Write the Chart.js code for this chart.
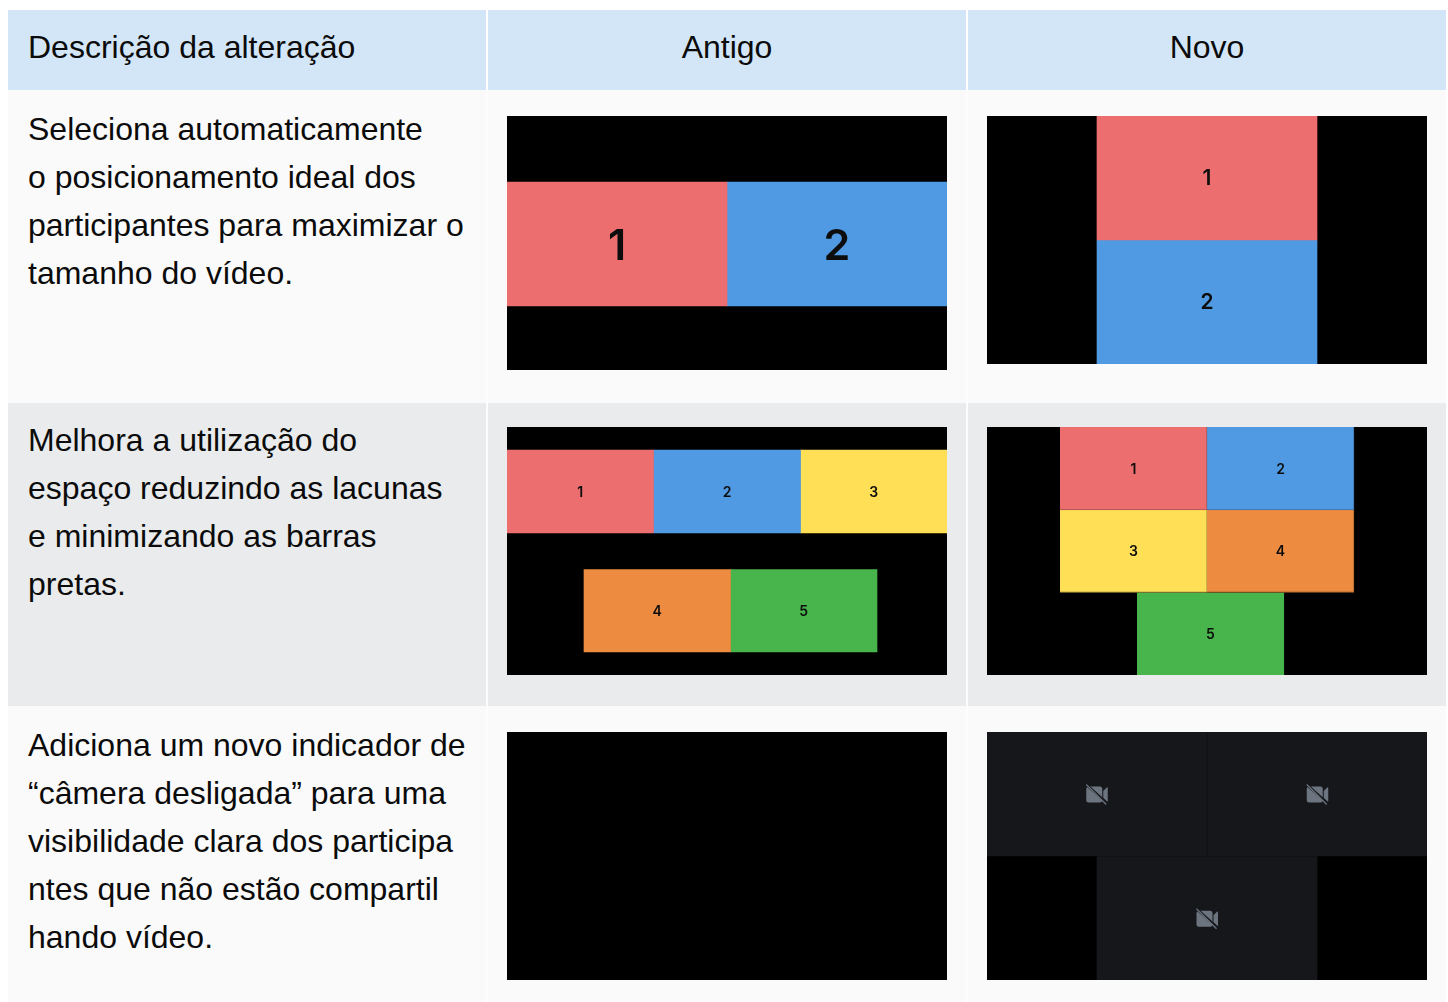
<!DOCTYPE html>
<html lang="pt">
<head>
<meta charset="utf-8">
<title>Descrição da alteração</title>
<script src="https://cdn.jsdelivr.net/npm/chart.js@4"></script>
<style>
html, body { margin: 0; background: #ffffff; }
body { width: 1448px; height: 1002px; position: relative; overflow: hidden; font-family: "Liberation Sans", Arial, sans-serif; color: #0b0b0b; }
.cell { position: absolute; box-sizing: border-box; font-size: 32px; line-height: 48px; white-space: pre; }
.head { background: #d3e6f8; top: 10px; height: 80px; line-height: 74px; }
.center { text-align: center; }
.c1 { left: 8px; width: 478px; padding-left: 20px; }
.c2 { left: 488px; width: 478px; }
.c3 { left: 968px; width: 478px; }
.r1 { top: 90px; height: 313px; background: #fafafa; }
.r2 { top: 403px; height: 303px; background: #e9ebed; }
.r3 { top: 706px; height: 296px; background: #fafafa; }
.sep { position: absolute; width: 2px; top: 90px; height: 912px; background: #fdfdfd; }
canvas { position: absolute; background: #000000; }
</style>
</head>
<body>
<div class="cell head c1">Descrição da alteração</div>
<div class="cell head c2 center">Antigo</div>
<div class="cell head c3 center">Novo</div>

<div class="cell r1 c1" style="padding-top:15px">Seleciona automaticamente
o posicionamento ideal dos
participantes para maximizar o
tamanho do vídeo.</div>
<div class="cell r1 c2"></div>
<div class="cell r1 c3"></div>

<div class="cell r2 c1" style="padding-top:13px">Melhora a utilização do
espaço reduzindo as lacunas
e minimizando as barras
pretas.</div>
<div class="cell r2 c2"></div>
<div class="cell r2 c3"></div>

<div class="cell r3 c1" style="padding-top:15px">Adiciona um novo indicador de
“câmera desligada” para uma
visibilidade clara dos participa
ntes que não estão compartil
hando vídeo.</div>
<div class="cell r3 c2"></div>
<div class="cell r3 c3"></div>

<div class="sep" style="left:486px"></div>
<div class="sep" style="left:966px"></div>

<canvas id="old1" width="440" height="254" style="left:507px;top:116px"></canvas>
<canvas id="new1" width="440" height="248" style="left:987px;top:116px"></canvas>
<canvas id="old2" width="440" height="248" style="left:507px;top:427px"></canvas>
<canvas id="new2" width="440" height="248" style="left:987px;top:427px"></canvas>
<canvas id="old3" width="440" height="248" style="left:507px;top:732px"></canvas>
<canvas id="new3" width="440" height="248" style="left:987px;top:732px"></canvas>

<script>
// tile extents, panel units
const old1Labels = ["1", "2"];
const old1Start = [0, 220];
const old1End = [220, 440];
const old1Top = [66, 66];
const old1Bottom = [190, 190];

const new1Labels = ["1", "2"];
const new1Start = [110, 110];
const new1End = [330, 330];
const new1Top = [0, 124];
const new1Bottom = [124, 248];

const old2Labels = ["1", "2", "3", "4", "5"];
const old2Start = [0, 146.5, 293.5, 77, 223.5];
const old2End = [146.5, 293.5, 440, 223.5, 370];
const old2Top = [23, 23, 23, 142.5, 142.5];
const old2Bottom = [106, 106, 106, 225, 225];

const new2Labels = ["1", "2", "3", "4", "5"];
const new2Start = [73, 220, 73, 220, 150];
const new2End = [220, 367, 220, 367, 297];
const new2Top = [0, 0, 83, 83, 165.5];
const new2Bottom = [83, 83, 165.5, 165.5, 248];

const new3Labels = ["", "", ""];
const new3Start = [0, 220.5, 110];
const new3End = [219.5, 440, 330];
const new3Top = [0, 0, 124.5];
const new3Bottom = [124, 124, 248];

const participantColors = ["#ec6e6e", "#4f9ae2", "#ffdf55", "#ed8b40", "#47b44c"];
const participantEdges = ["#a85252", "#3f6fa3", "#b39c40", "#a8632e", "#47b44c"];
const cameraOffColors = ["#16171b", "#16171b", "#16171b"];

// numbers in the middle of each tile
const tileLabelPlugin = {
    id: "tileLabels",
    afterDatasetsDraw(chart, args, opts) {
        const ctx = chart.ctx;
        chart.data.datasets.forEach((ds, i) => {
            const bar = chart.getDatasetMeta(i).data[0];
            const cx = (bar.x + bar.base) / 2;
            const cy = bar.y;
            if (opts.icons) {
                drawCameraOff(ctx, cx, cy);
            } else {
                ctx.save();
                ctx.font = opts.font;
                ctx.fillStyle = "#0d0d0d";
                ctx.textAlign = "center";
                ctx.textBaseline = "middle";
                ctx.fillText(ds.label, cx, cy + opts.lift);
                ctx.restore();
            }
        });
    }
};

function drawCameraOff(ctx, cx, cy) {
    ctx.save();
    ctx.translate(cx, cy);
    ctx.fillStyle = "#6c757f";
    ctx.beginPath();
    ctx.roundRect(-10.5, -7.5, 16, 16, 2.5);
    ctx.fill();
    ctx.beginPath();
    ctx.moveTo(6.5, -3);
    ctx.lineTo(10, -6.5);
    ctx.quadraticCurveTo(11, -7.5, 11, -5.5);
    ctx.lineTo(11, 6.5);
    ctx.quadraticCurveTo(11, 8.5, 10, 7.5);
    ctx.lineTo(6.5, 4);
    ctx.fill();
    ctx.lineWidth = 2.5;
    ctx.strokeStyle = "#16171b";
    ctx.beginPath();
    ctx.moveTo(-10, -9);
    ctx.lineTo(11, 10);
    ctx.stroke();
    ctx.lineWidth = 1.2;
    ctx.strokeStyle = "#6c757f";
    ctx.beginPath();
    ctx.moveTo(-10.5, -9.5);
    ctx.lineTo(9.5, 10.5);
    ctx.stroke();
    ctx.restore();
}

function createPanel(id, labels, start, end, top, bottom, colors, labelOpts, edges) {
    const canvas = document.getElementById(id);
    const datasets = labels.map((label, i) => ({
        label: label,
        stack: "tiles",
        data: [{ x: [start[i], end[i]], y: (top[i] + bottom[i]) / 2 }],
        backgroundColor: colors[i],
        barThickness: bottom[i] - top[i],
        borderColor: edges ? edges[i] : colors[i],
        borderSkipped: false,
        borderWidth: edges ? { top: 0, left: 0, right: 1, bottom: 1 } : 0
    }));
    new Chart(canvas, {
        type: "bar",
        data: { datasets: datasets },
        plugins: [tileLabelPlugin],
        options: {
            indexAxis: "y",
            responsive: false,
            animation: false,
            events: [],
            layout: { padding: 0 },
            plugins: {
                legend: { display: false },
                tooltip: { enabled: false },
                tileLabels: labelOpts
            },
            scales: {
                // stacked only on the y side, so every tile of a row keeps its own x range
                x: { type: "linear", display: false, min: 0, max: canvas.width, stacked: false, offset: false },
                y: { type: "linear", display: false, min: 0, max: canvas.height, reverse: true, stacked: true, offset: false }
            }
        }
    });
}

createPanel("old1", old1Labels, old1Start, old1End, old1Top, old1Bottom, participantColors, { font: "600 43px Inter", lift: 3 });
createPanel("new1", new1Labels, new1Start, new1End, new1Top, new1Bottom, participantColors, { font: "600 21px Inter", lift: 1 });
createPanel("old2", old2Labels, old2Start, old2End, old2Top, old2Bottom, participantColors, { font: "600 14px Inter", lift: 1 });
createPanel("new2", new2Labels, new2Start, new2End, new2Top, new2Bottom, participantColors, { font: "600 14px Inter", lift: 1 }, participantEdges);
createPanel("old3", [], [], [], [], [], [], { lift: 0 });
createPanel("new3", new3Labels, new3Start, new3End, new3Top, new3Bottom, cameraOffColors, { icons: true });
</script>
</body>
</html>
